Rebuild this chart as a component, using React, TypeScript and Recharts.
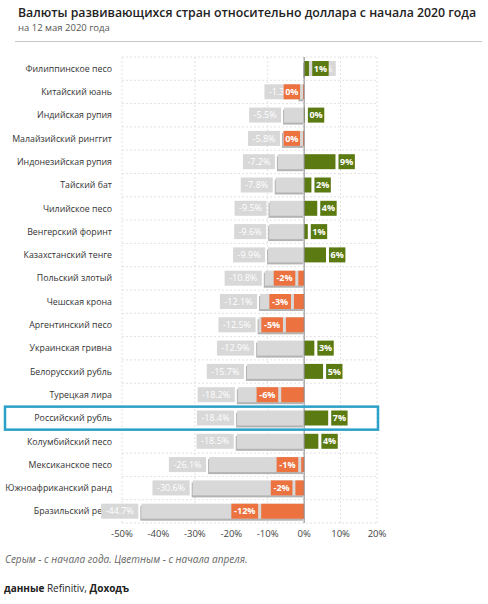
import React from 'react';
import {
  BarChart,
  Bar,
  XAxis,
  YAxis,
  CartesianGrid,
  Cell,
  LabelList,
  ReferenceLine,
} from 'recharts';

document.body.style.margin = '0';

const currencies = [
  'Филиппинское песо',
  'Китайский юань',
  'Индийская рупия',
  'Малайзийский ринггит',
  'Индонезийская рупия',
  'Тайский бат',
  'Чилийское песо',
  'Венгерский форинт',
  'Казахстанский тенге',
  'Польский злотый',
  'Чешская крона',
  'Аргентинский песо',
  'Украинская гривна',
  'Белорусский рубль',
  'Турецкая лира',
  'Российский рубль',
  'Колумбийский песо',
  'Мексиканское песо',
  'Южноафриканский ранд',
  'Бразильский реал',
];

// since start of the year (grey)
const sinceJan = [
  0.5, -1.3, -5.5, -5.8, -7.2, -7.8, -9.5, -9.6, -9.9, -10.8, -12.1, -12.5, -12.9, -15.7, -18.2,
  -18.4, -18.5, -26.1, -30.6, -44.7,
];

// since start of April (coloured)
const sinceApr = [
  1.4, -0.3, 0.2, -0.3, 8.6, 2.0, 3.6, 1.0, 6.0, -1.6, -2.8, -5.0, 2.8, 5.2, -6.3, 6.6, 3.9, -0.8,
  -2.4, -11.8,
];

const xTicks = [-50, -40, -30, -20, -10, 0, 10, 20];
const HIGHLIGHT = 'Российский рубль';

const GREEN = '#5b7a12';
const ORANGE = '#ec7240';
const GREY = '#d8d8d8';
const FONT = '"Open Sans", "DejaVu Sans", sans-serif';

const data = currencies.map((name, i) => ({ name, jan: sinceJan[i], apr: sinceApr[i] }));

const GreyBar = (props: any) => {
  const { x, y, width, height } = props;
  const left = Math.min(x, x + width);
  const w = Math.abs(width);
  return (
    <g>
      <rect x={left - 1} y={y + 2} width={w} height={height} fill="#b3b3b3" />
      <rect x={left} y={y} width={w} height={height} fill={GREY} />
    </g>
  );
};

const boxLabel = (fill: string, bold: boolean, fmt: (v: number) => string) => (props: any) => {
  const { x, y, width, height, value } = props;
  const text = fmt(value);
  const bw = text.length * 5.2 + 6;
  const bh = 15;
  const left = Math.min(x, x + width);
  const right = Math.max(x, x + width);
  const bx = value < 0 ? left - 3 - bw : right + 3;
  const cy = y + height / 2;
  return (
    <g>
      <rect x={bx} y={cy - bh / 2} width={bw} height={bh} fill={fill} />
      <text
        x={bx + bw / 2}
        y={cy}
        dy="0.35em"
        textAnchor="middle"
        fontSize={9}
        fontWeight={bold ? 700 : 400}
        fontFamily={FONT}
        fill="#fff"
      >
        {text}
      </text>
    </g>
  );
};

const janLabel = boxLabel(GREY, false, (v) => `${v.toFixed(1)}%`);
const aprLabel = (props: any) => {
  const fill = props.value >= 0 ? GREEN : ORANGE;
  return boxLabel(fill, true, (v) => {
    const r = Math.round(v);
    return `${r === 0 ? 0 : r}%`;
  })(props);
};

const CurrencyTick = (props: any) => {
  const { x, y, payload } = props;
  return (
    <g>
      {payload.value === HIGHLIGHT && (
        <rect x={5} y={y - 11.5} width={373} height={23} fill="none" stroke="#2ba0c8" strokeWidth={2.5} />
      )}
      <text x={x} y={y} dy="0.35em" textAnchor="end" fontSize={8.8} fontFamily={FONT} fill="#333">
        {payload.value}
      </text>
    </g>
  );
};

const rowLines = ({ offset }: any) => {
  const n = currencies.length;
  return Array.from({ length: n + 1 }, (_, i) => offset.top + (i * offset.height) / n);
};

export default function App() {
  return (
    <div style={{ position: 'relative', width: 488, height: 604, background: '#fff', fontFamily: FONT }}>
      <div style={{ position: 'absolute', left: 18, top: 4, fontSize: 12.3, fontWeight: 600, color: '#222', whiteSpace: 'nowrap' }}>
        Валюты развивающихся стран относительно доллара с начала 2020 года
      </div>
      <div style={{ position: 'absolute', left: 18, top: 21, fontSize: 9.5, color: '#555' }}>на 12 мая 2020 года</div>
      <div style={{ position: 'absolute', left: 15, top: 41, width: 467, height: 1, background: '#c8c8c8' }} />
      <div style={{ position: 'absolute', left: 0, top: 0 }}>
        <BarChart
          width={488}
          height={546}
          data={data}
          layout="vertical"
          margin={{ top: 57, right: 111, bottom: 0, left: 0 }}
        >
          <CartesianGrid
            yAxisId="a"
            stroke="#e2e2e2"
            strokeDasharray="2 2"
            horizontalCoordinatesGenerator={rowLines}
          />
          <XAxis
            type="number"
            domain={[-50, 20]}
            ticks={xTicks}
            tickFormatter={(v) => `${v}%`}
            axisLine={false}
            tickLine={false}
            tickSize={0}
            tickMargin={7}
            height={23}
            tick={{ fontSize: 9.5, fill: '#444', fontFamily: FONT }}
          />
          <YAxis
            yAxisId="a"
            type="category"
            dataKey="name"
            width={122}
            axisLine={false}
            tickLine={false}
            tickSize={0}
            tickMargin={10}
            interval={0}
            tick={<CurrencyTick />}
          />
          <YAxis yAxisId="b" type="category" dataKey="name" hide />
          <Bar yAxisId="a" dataKey="jan" barSize={15} shape={<GreyBar />} isAnimationActive={false}>
            <LabelList dataKey="jan" content={janLabel} />
          </Bar>
          <ReferenceLine yAxisId="a" x={0} stroke="#8a8a8a" strokeWidth={1} />
          <Bar yAxisId="b" dataKey="apr" barSize={15} isAnimationActive={false}>
            {data.map((d, i) => (
              <Cell key={`c-${i}`} fill={d.apr >= 0 ? GREEN : ORANGE} />
            ))}
            <LabelList dataKey="apr" content={aprLabel} />
          </Bar>
        </BarChart>
      </div>
      <div style={{ position: 'absolute', left: 5, top: 552, fontSize: 10, fontStyle: 'italic', color: '#666' }}>
        Серым - с начала года. Цветным - с начала апреля.
      </div>
      <div style={{ position: 'absolute', left: 4, top: 581, fontSize: 10, color: '#222' }}>
        <b>данные</b> Refinitiv, <b>Доходъ</b>
      </div>
    </div>
  );
}
